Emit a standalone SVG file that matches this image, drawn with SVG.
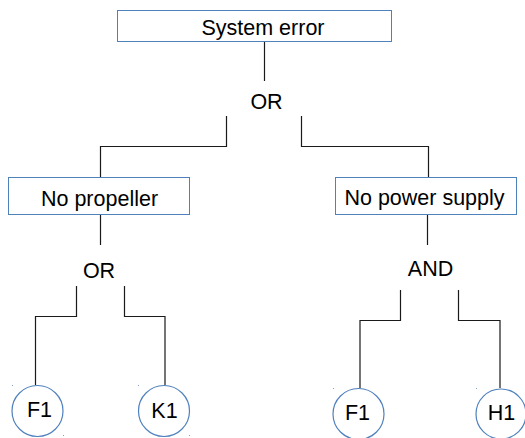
<svg xmlns="http://www.w3.org/2000/svg" width="525" height="438" viewBox="0 0 525 438">
  <style>
    .box { fill: #ffffff; stroke: #4f81bd; stroke-width: 1; }
    .leaf { fill: #ffffff; stroke: #4f81bd; stroke-width: 1.2; }
    .lbl { font-family: "Liberation Sans", Arial, sans-serif; font-size: 21.5px; fill: #000000; text-anchor: middle; }
    .wire { fill: none; stroke: #1a1a1a; stroke-width: 1.2; }
    .dot { fill: #7f9fcc; }
  </style>
  <rect width="525" height="438" fill="#ffffff"/>

  <!-- connectors -->
  <g id="connectors">
    <path class="wire" d="M264.5,41 V81"/>
    <path class="wire" d="M226.5,116 V146.5 H100.5 V177"/>
    <path class="wire" d="M301.5,116 V146.5 H428.5 V177"/>
    <path class="wire" d="M100.5,214 V245"/>
    <path class="wire" d="M427.5,214 V245"/>
    <path class="wire" d="M76.5,286 V316.5 H35.5 V385"/>
    <path class="wire" d="M124.5,286 V316.5 H165 V385"/>
    <path class="wire" d="M400.5,290 V320.5 H360 V388"/>
    <path class="wire" d="M458.5,290 V320.5 H500 V388"/>
  </g>

  <!-- top event -->
  <g id="system-error">
    <rect class="box" x="117.5" y="10.5" width="274" height="31"/>
    <text class="lbl" x="263" y="35">System error</text>
  </g>

  <!-- gates -->
  <g id="gate-or-top">
    <text class="lbl" x="266.5" y="109">OR</text>
  </g>
  <g id="gate-or-left">
    <text class="lbl" x="99" y="277.5">OR</text>
  </g>
  <g id="gate-and-right">
    <text class="lbl" x="430.5" y="276">AND</text>
  </g>

  <!-- intermediate events -->
  <g id="no-propeller">
    <rect class="box" x="8.5" y="177.5" width="181" height="37"/>
    <text class="lbl" x="99.5" y="205.5">No propeller</text>
  </g>
  <g id="no-power-supply">
    <rect class="box" x="335.5" y="177.5" width="181" height="37"/>
    <text class="lbl" x="424.5" y="205">No power supply</text>
  </g>

  <!-- basic events -->
  <g id="f1-left">
    <circle class="leaf" cx="37.5" cy="411" r="25.5"/>
    <rect class="dot" x="12" y="385" width="1" height="1"/>
    <rect class="dot" x="63" y="435" width="1" height="1"/>
    <text class="lbl" x="39.5" y="416.5">F1</text>
  </g>
  <g id="k1">
    <circle class="leaf" cx="164" cy="411" r="25.5"/>
    <rect class="dot" x="138" y="385" width="1" height="1"/>
    <rect class="dot" x="189" y="435" width="1" height="1"/>
    <text class="lbl" x="164.5" y="417.5">K1</text>
  </g>
  <g id="f1-right">
    <circle class="leaf" cx="358.5" cy="414" r="25.5"/>
    <rect class="dot" x="333" y="388" width="1" height="1"/>
    <text class="lbl" x="357.5" y="420">F1</text>
  </g>
  <g id="h1">
    <circle class="leaf" cx="501" cy="414" r="25"/>
    <rect class="dot" x="476" y="388" width="1" height="1"/>
    <text class="lbl" x="501.5" y="420">H1</text>
  </g>
</svg>
